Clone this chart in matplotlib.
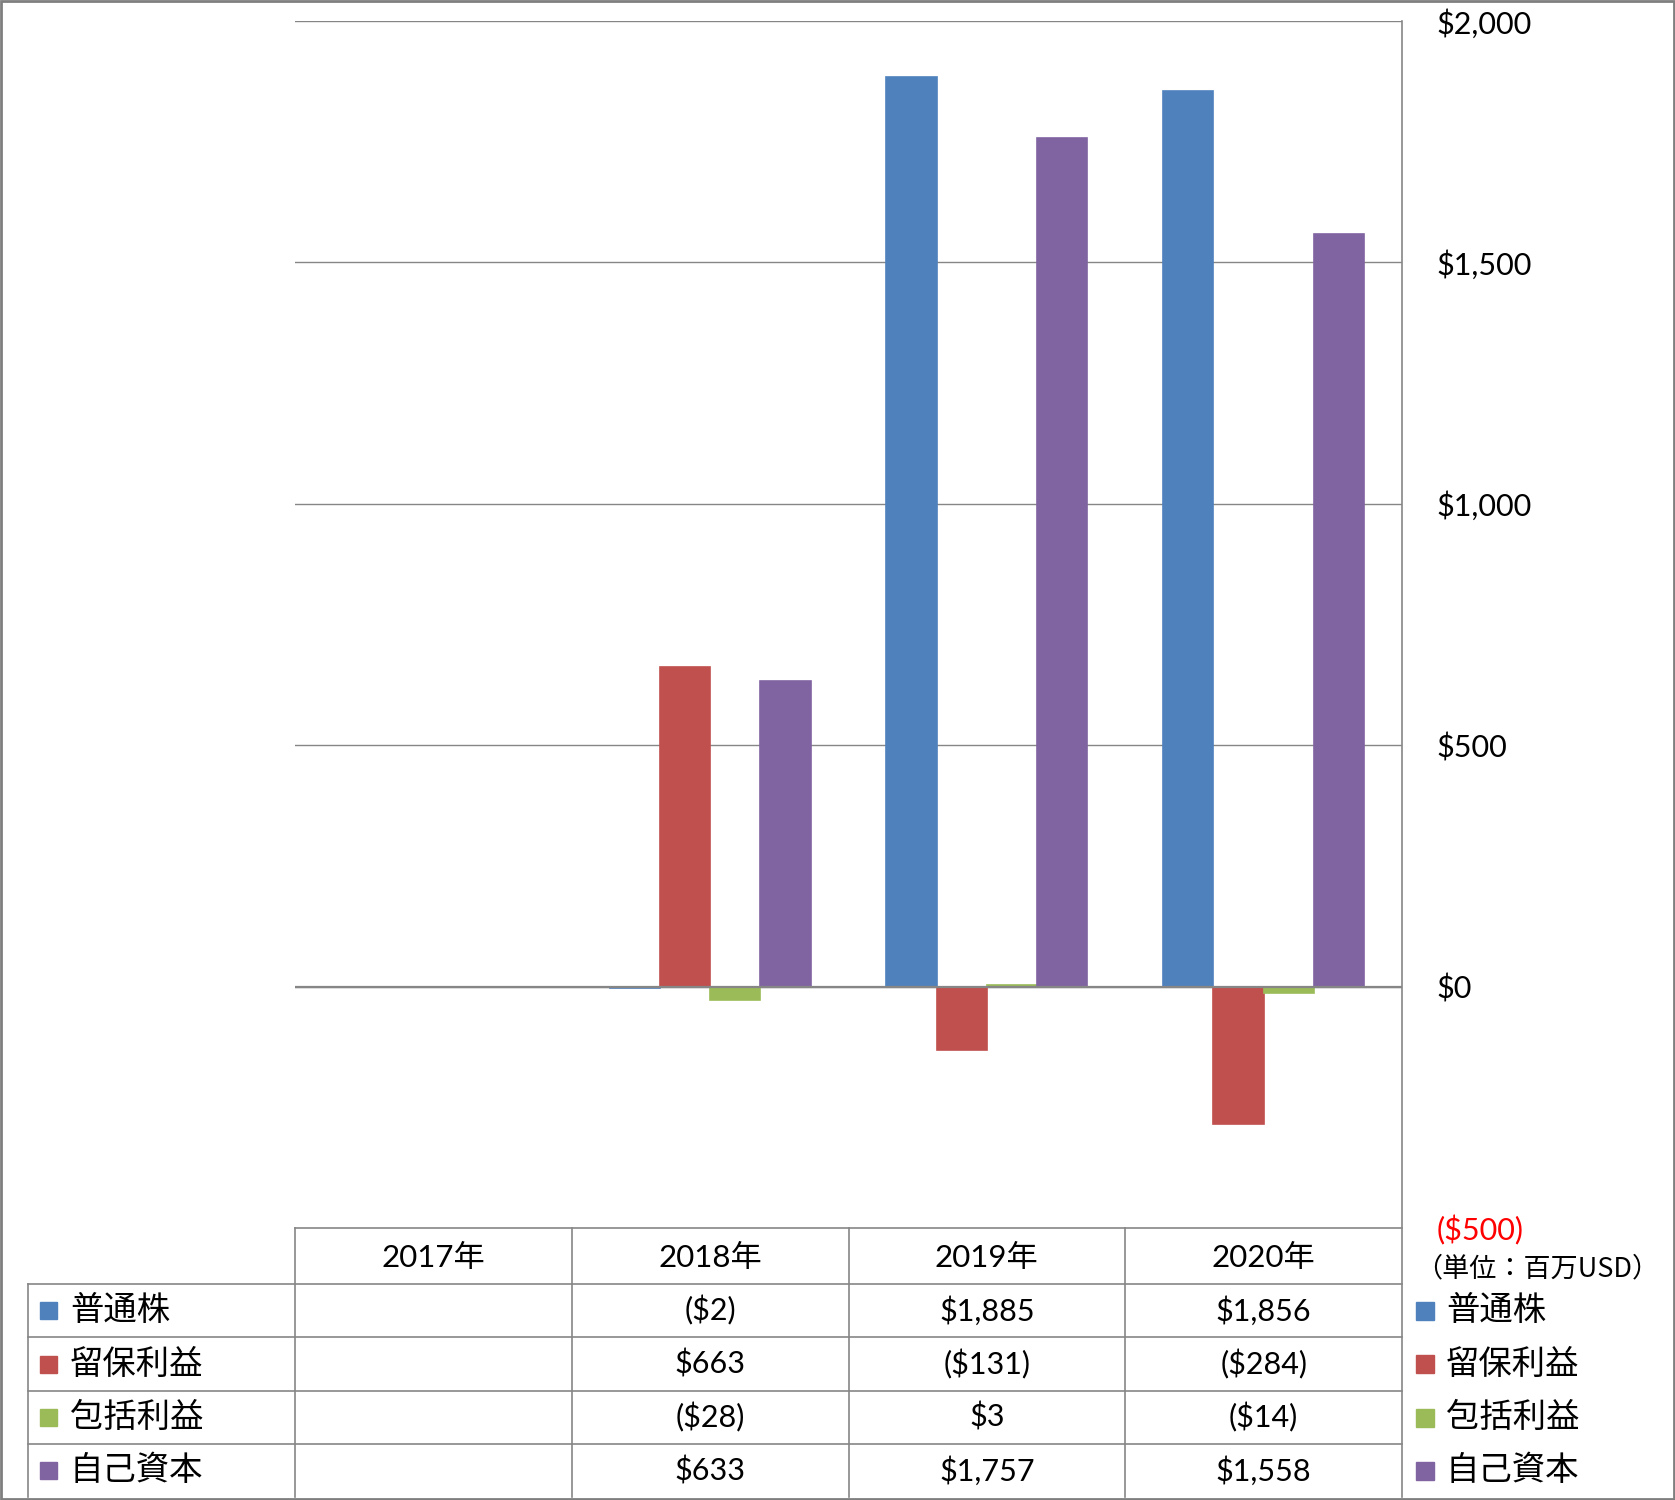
import matplotlib
matplotlib.use("Agg")
import matplotlib.pyplot as plt
from matplotlib.patches import Rectangle
from matplotlib.ticker import FuncFormatter
import numpy as np

# data (millions USD)
years = ["2017年", "2018年", "2019年", "2020年"]
series_names = ["普通株", "留保利益", "包括利益", "自己資本"]
common_stock = [np.nan, -2, 1885, 1856]
retained_earnings = [np.nan, 663, -131, -284]
comprehensive_income = [np.nan, -28, 3, -14]
equity = [np.nan, 633, 1757, 1558]
y_ticks = [-500, 0, 500, 1000, 1500, 2000]

series = [common_stock, retained_earnings, comprehensive_income, equity]
colors = ["#4F81BD", "#C0504D", "#9BBB59", "#8064A2"]
line_gray = "#868686"

NUM_FONT = ["Lato", "Noto Sans CJK JP"]
JP_FONT = ["Noto Sans CJK JP", "DejaVu Sans"]


def money(v):
    if np.isnan(v):
        return ""
    s = f"${abs(v):,.0f}"
    return f"({s})" if v < 0 else s


W, H = 1675, 1500
fig = plt.figure(figsize=(W / 100, H / 100), dpi=100)

# overlay in pixel coordinates for the table / legend
ov = fig.add_axes([0, 0, 1, 1])
ov.set_xlim(0, W)
ov.set_ylim(H, 0)
ov.axis("off")

left, right, top, bottom = 295, 1402, 21, 1228
ax = fig.add_axes([left / W, 1 - bottom / H, (right - left) / W, (bottom - top) / H])
ax.patch.set_visible(False)

x = np.arange(len(years))
bw = 0.1815
for i, (vals, c) in enumerate(zip(series, colors)):
    ax.bar(x + (i - 1.5) * bw, vals, width=bw, color=c, edgecolor=c,
           linewidth=1.2, zorder=2)

ax.set_xlim(-0.5, len(years) - 0.5)
ax.set_ylim(-500, 2000)
ax.set_yticks(y_ticks)
ax.set_xticks([])
for s in ax.spines.values():
    s.set_visible(False)
for t in y_ticks[1:]:
    ax.axhline(t, color=line_gray, lw=1.0, zorder=1)
ax.axhline(0, color=line_gray, lw=1.6, zorder=3)

ax.yaxis.tick_right()
ax.tick_params(axis="y", length=0, pad=25, labelsize=22)
ax.yaxis.set_major_formatter(FuncFormatter(lambda v, p: money(v)))
for lab in ax.get_yticklabels():
    lab.set_fontfamily(NUM_FONT)
ax.get_yticklabels()[0].set_color("red")

# table geometry from the axis scale
fig.canvas.draw()
def px(xv):
    return ax.transData.transform((xv, 0))[0]

bounds = [px(i - 0.5) for i in range(len(years) + 1)]
centers = [px(i) for i in x]
row_edges = [1228, 1284, 1337, 1391, 1444, 1497]
table_left = 28

lkw = dict(color=line_gray, lw=1.2)
ov.plot([bounds[0], bounds[-1]], [row_edges[0]] * 2, **lkw)
for b in bounds[:-1]:
    ov.plot([b, b], [row_edges[0], row_edges[-1]], **lkw)
ov.plot([bounds[-1]] * 2, [top, row_edges[-1]], **lkw)
for ry in row_edges[1:-1]:
    ov.plot([table_left, bounds[-1]], [ry, ry], **lkw)
ov.plot([table_left] * 2, [row_edges[1], row_edges[-1]], **lkw)

hy = (row_edges[0] + row_edges[1]) / 2 + 2
for cx, yr in zip(centers, years):
    ov.text(cx, hy, yr, ha="center", va="center", fontsize=22.5, family=NUM_FONT)

for r, (name, vals, c) in enumerate(zip(series_names, series, colors)):
    cy = (row_edges[r + 1] + row_edges[r + 2]) / 2
    ov.add_patch(Rectangle((40, cy - 8.5), 17, 17, color=c))
    ov.text(70, cy, name, ha="left", va="center", fontsize=24, family=JP_FONT)
    for cx, v in zip(centers, vals):
        ov.text(cx, cy, money(v), ha="center", va="center", fontsize=22, family=NUM_FONT)
    # legend on the right
    ov.add_patch(Rectangle((1416, cy - 9), 18, 18, color=c))
    ov.text(1446, cy, name, ha="left", va="center", fontsize=24, family=JP_FONT)

ov.text(1537, 1269, "（単位：百万USD）", ha="center", va="center", fontsize=19.5, family=JP_FONT)

ov.add_patch(Rectangle((1, 1), W - 2, H - 2, fill=False, edgecolor="#7F7F7F", lw=2))

fig.savefig("out.png", dpi=100)
